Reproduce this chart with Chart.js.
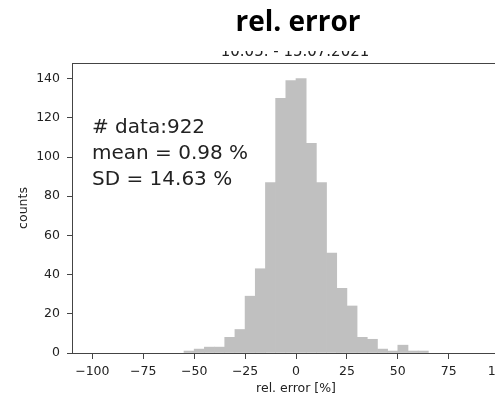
<!DOCTYPE html>
<html>
<head>
<meta charset="utf-8">
<script src="https://cdn.jsdelivr.net/npm/chart.js@4"></script>
<style>
  html, body { margin: 0; padding: 0; background: #fff; overflow: hidden; }
  #wrap { width: 495px; height: 396px; overflow: hidden; }
</style>
</head>
<body>
<div id="wrap"><canvas id="myChart" width="540" height="396"></canvas></div>
<script>
let binCenters = [-52.5, -47.5, -42.5, -37.5, -32.5, -27.5, -22.5, -17.5, -12.5, -7.5, -2.5, 2.5,
  7.5, 12.5, 17.5, 22.5, 27.5, 32.5, 37.5, 42.5, 47.5, 52.5, 57.5, 62.5];
let counts = [1, 2, 3, 3, 8, 12, 29, 43, 87, 130, 139, 140,
  107, 87, 51, 33, 24, 8, 7, 2, 1, 4, 1, 1];
let xTicks = [-100, -75, -50, -25, 0, 25, 50, 75, 100];
let yTicks = [0, 20, 40, 60, 80, 100, 120, 140];
let statLines = ["# data:922", "mean = 0.98 %", "SD = 14.63 %"];
let titleText = "rel. error";
let periodText = "10.05. - 15.07.2021";

let tickFont = { family: "DejaVu Sans", size: 12.5 };

let texts = {
  id: "texts",
  afterDraw(chart) {
    let ctx = chart.ctx;
    let area = chart.chartArea;
    ctx.save();
    // top spine
    ctx.strokeStyle = "#444";
    ctx.lineWidth = 1;
    ctx.beginPath();
    ctx.moveTo(area.left, area.top + 0.5);
    ctx.lineTo(chart.width, area.top + 0.5);
    ctx.stroke();

    ctx.fillStyle = "#000";
    ctx.textAlign = "center";
    ctx.textBaseline = "middle";
    ctx.font = "bold 28px 'Open Sans'";
    ctx.fillText(titleText, 298, 23);

    // period line, top part cut off like in the picture
    ctx.save();
    ctx.beginPath();
    ctx.rect(0, 51, chart.width, 11);
    ctx.clip();
    ctx.fillStyle = "#222";
    ctx.textBaseline = "alphabetic";
    ctx.font = "15px 'DejaVu Sans'";
    ctx.fillText(periodText, 295, 56);
    ctx.restore();

    ctx.fillStyle = "#222";
    ctx.textAlign = "left";
    ctx.textBaseline = "alphabetic";
    ctx.font = "20px 'DejaVu Sans'";
    statLines.forEach((s, i) => ctx.fillText(s, 92, 133 + i * 26.2));
    ctx.restore();
  }
};

let minus = v => (v < 0 ? "\u2212" + Math.abs(v) : "" + v);

let histChart = new Chart(document.getElementById("myChart"), {
  type: "bar",
  data: {
    datasets: [
      {
        data: binCenters.map((c, i) => ({ x: c, y: counts[i] })),
        backgroundColor: "#c0c0c0",
        borderWidth: 0,
        barPercentage: 1,
        categoryPercentage: 1,
      },
    ],
  },
  options: {
    responsive: false,
    animation: false,
    devicePixelRatio: 1,
    layout: { padding: { top: 63, right: 20, left: 0, bottom: 0 } },
    plugins: { legend: { display: false }, tooltip: { enabled: false } },
    scales: {
      x: {
        type: "linear",
        min: -110,
        max: 110,
        offset: false,
        afterBuildTicks: s => { s.ticks = xTicks.map(v => ({ value: v })); },
        afterFit: s => { s.height = 43; },
        grid: { drawOnChartArea: false, offset: false, tickLength: 6, color: "#444" },
        border: { color: "#444", width: 1 },
        ticks: { font: tickFont, color: "#222", padding: 5, maxRotation: 0, autoSkip: false, callback: minus },
        title: { display: true, text: "rel. error [%]", font: { family: "DejaVu Sans", size: 12.5, lineHeight: 1.1 }, color: "#222", padding: 0 },
      },
      y: {
        min: 0,
        max: 148,
        afterBuildTicks: s => { s.ticks = yTicks.map(v => ({ value: v })); },
        afterFit: s => { s.width = 72; },
        grid: { drawOnChartArea: false, tickLength: 5, color: "#444" },
        border: { color: "#444", width: 1 },
        ticks: { font: tickFont, color: "#222", padding: 7, autoSkip: false },
        title: { display: true, text: "counts", font: tickFont, color: "#222", padding: { top: 16, bottom: 0 } },
      },
    },
  },
  plugins: [texts],
});
</script>
</body>
</html>
